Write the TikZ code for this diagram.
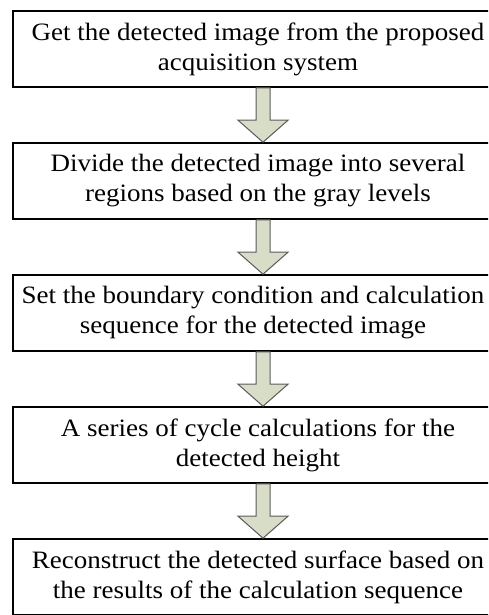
\documentclass[tikz,border=0pt]{standalone}
\usepackage{fontspec}
\setmainfont{Liberation Serif}[FakeStretch=1.08]
\usetikzlibrary{calc}
\definecolor{arrowfill}{HTML}{D8DDC8}
\definecolor{arrowline}{HTML}{5A5A5A}
\begin{document}
\begin{tikzpicture}[x=1pt,y=-1pt,
  stepbox/.style={draw=black, line width=1.6pt, minimum width=490pt,
    minimum height=76pt, align=center, inner sep=0pt,
    font=\fontsize{25}{30}\selectfont},
  blockarrow/.style={fill=arrowfill, draw=arrowline, line width=1pt,
    line join=miter}]
\useasboundingbox (0,0) rectangle (488,615);
\clip (0,0) rectangle (488,615);
% vertical axis of the connecting arrows
\coordinate (axis) at (263,0);
\node[stepbox] (s1) at (258,49)
  {Get the detected image from the proposed\\acquisition system};
\node[stepbox] (s2) at (258,181)
  {Divide the detected image into several\\regions based on the gray levels};
\node[stepbox, minimum width=480pt] (s3) at (253,313)
  {Set the boundary condition and calculation\\sequence for the detected image};
\node[stepbox] (s4) at (258,445)
  {A series of cycle calculations for the\\detected height};
\node[stepbox] (s5) at (258,577)
  {Reconstruct the detected surface based on\\the results of the calculation sequence};
% block arrows between consecutive steps
\foreach \a/\b in {s1/s2, s2/s3, s3/s4, s4/s5}
  \draw[blockarrow]
    ($(\a.south -| axis)+(-7,0)$) -- ($(\a.south -| axis)+(7,0)$)
    -- ($(\b.north -| axis)+(7,-22)$) -- ($(\b.north -| axis)+(25,-22)$)
    -- (\b.north -| axis)
    -- ($(\b.north -| axis)+(-25,-22)$) -- ($(\b.north -| axis)+(-7,-22)$)
    -- cycle;
\end{tikzpicture}
\end{document}
